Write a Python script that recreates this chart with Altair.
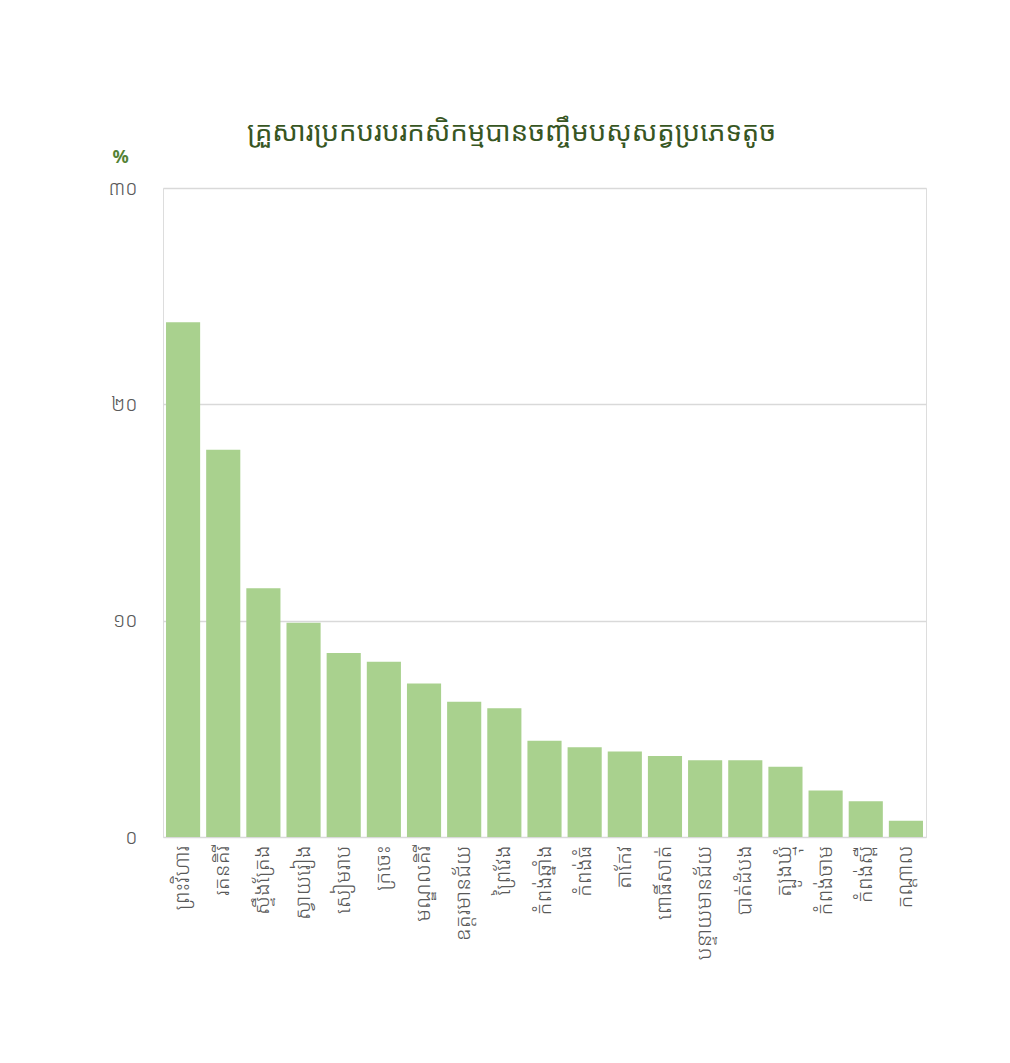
import altair as alt
import pandas as pd

provinces = ["ព្រះវិហារ", "រតនគិរី", "ស្ទឹងត្រែង", "ស្វាយរៀង", "សៀមរាប", "ក្រចេះ",
             "មណ្ឌលគិរី", "ឧត្តរមានជ័យ", "ព្រៃវែង", "កំពង់ឆ្នាំង", "កំពង់ធំ", "តាកែវ",
             "ពោធិ៍សាត់", "បន្ទាយមានជ័យ", "បាត់ដំបង", "ត្បូងឃ្មុំ", "កំពង់ចាម", "កំពង់ស្ពឺ", "កណ្តាល"]
values = [23.8, 17.9, 11.5, 9.9, 8.5, 8.1, 7.1, 6.25, 5.95, 4.45, 4.15, 3.95,
          3.75, 3.55, 3.55, 3.25, 2.15, 1.65, 0.75]
y_ticks = [0, 10, 20, 30]
y_tick_labels = ["០", "១០", "២០", "៣០"]

df = pd.DataFrame({"province": provinces, "value": values})

FONT = "Noto Sans Khmer, Khmer OS System, Khmer OS, sans-serif"
label_expr = " : ".join(
    f"datum.value == {v} ? '{t}'" for v, t in zip(y_ticks, y_tick_labels)
) + " : datum.label"

chart = alt.Chart(df).mark_bar(color="#A9D18E").encode(
    x=alt.X("province:N", sort=None,
            scale=alt.Scale(paddingInner=0.15, paddingOuter=0.075),
            axis=alt.Axis(title=None, labelAngle=270, labelAlign="right", labelBaseline="middle",
                          labelFontSize=21, labelColor="#595959", labelPadding=8,
                          labelFontWeight=300,
                          ticks=False, domain=False, labelFont=FONT)),
    y=alt.Y("value:Q", scale=alt.Scale(domain=[0, 30], nice=False),
            axis=alt.Axis(values=y_ticks, labelExpr=label_expr, title="%",
                          titleAngle=0, titleX=-43, titleY=-22, titleColor="#548235",
                          titleFontSize=18, titleFontWeight="bold", titleFont="Noto Sans",
                          labelFontSize=20, labelColor="#595959", labelPadding=26,
                          labelFontWeight=300,
                          labelFont=FONT, ticks=False, domain=False,
                          gridColor="#D9D9D9", gridWidth=1.3)),
).properties(
    width=763, height=649,
    title=alt.TitleParams("គ្រួសារប្រកបរបរកសិកម្មបានចញ្ចឹមបសុសត្វប្រភេទតូច",
                          anchor="start", frame="group", dx=84, offset=2, fontSize=27.5,
                          color="#375623", font=FONT, fontWeight="normal"),
    padding={"left": 155, "top": 180, "right": 60, "bottom": 190},
    autosize=alt.AutoSizeParams(type="none"),
).configure_view(stroke="#D9D9D9", strokeWidth=1.3).configure(background="white")

chart.save("out.html", embed_options={"renderer": "svg", "actions": False})
